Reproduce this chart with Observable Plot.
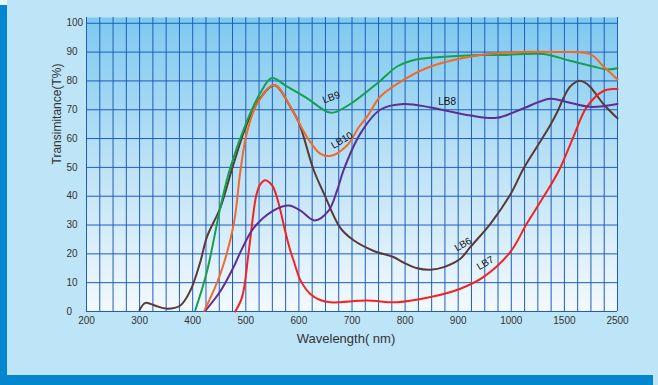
<!DOCTYPE html>
<html><head><meta charset="utf-8">
<script src="https://cdn.jsdelivr.net/npm/d3@7"></script>
<script src="https://cdn.jsdelivr.net/npm/@observablehq/plot@0.6"></script>
<style>
body{margin:0;background:#bee4f7;}
#wrap{position:relative;width:658px;height:385px;overflow:hidden;background:#bee4f7;}
#tl{position:absolute;left:0;top:0;width:7px;height:5px;background:#e6f3fb;}
#lbar{position:absolute;left:0;top:5px;width:7px;height:380px;background:#0386d0;}
#bbar{position:absolute;left:0;top:375px;width:653px;height:10px;background:#0386d0;}
#chart{position:absolute;left:0;top:0;}
</style></head><body>
<div id="wrap"><div id="tl"></div><div id="lbar"></div><div id="bbar"></div><div id="chart"></div></div>
<script>
// ---- data ----
const xTicks = [200,300,400,500,600,700,800,900,1000,1500,2500];
const yTicks = [0,10,20,30,40,50,60,70,80,90,100];
const xLabel = "Wavelength( nm)";
const yLabel = "Transimitance(T%)";

const lb6 = [[300,0.5],[311,3],[330,2],[350,1],[376,2],[395,7],[414,17],[427,26],[452,36],[475,50],[502,65],[527,74],[554,78.5],[584,71],[600,65.5],[628,49],[647,41],[678,29],[703,24.7],[741,21],[778,18.9],[797,17],[823,15],[848,14.5],[873,15.4],[904,18.3],[923,22.4],[961,30.5],[998,40.5],[1114,49.5],[1239,57],[1365,64.5],[1443,70],[1490,74],[1607,78],[1764,80],[1880,79.5],[1984,78],[2235,72],[2500,67]];
const lb7 = [[480,0],[493,5],[505,20],[515,35],[520,40.5],[527,44],[537,45.5],[546,44.5],[552,43],[562,37.4],[574,28],[584,21],[590,17.7],[603,10.8],[622,6],[640,4],[659,3.2],[728,3.8],[785,3.2],[848,5],[904,7.9],[948,12],[998,20.6],[1146,30.5],[1302,39.7],[1450,49],[1670,60.6],[1922,71],[2235,76.5],[2423,77.2],[2500,77.2]];
const lb8 = [[424,0.3],[452,7],[477,15.4],[493,21.8],[515,29],[552,35],[581,36.8],[603,35],[630,31.6],[656,35],[672,42],[684,49],[716,61.8],[753,70],[797,72],[848,70.8],[923,68],[973,67.2],[1083,70],[1365,73.8],[1545,72.7],[1984,71],[2500,72]];
const lb9 = [[405,0.5],[427,14],[452,36],[471,50],[502,66],[527,75.7],[549,81],[578,78],[615,74],[653,69.3],[665,69],[697,72],[753,80],[785,85],[823,87.5],[873,88.4],[942,89],[985,89],[1302,89.3],[1607,87],[2046,85],[2298,84],[2500,84.4]];
const lb10 = [[422,0.3],[452,13],[477,30],[490,49],[502,62],[521,72],[554,78.6],[584,71],[615,60.6],[640,54.8],[660,54],[691,57.7],[713,64],[728,67.5],[753,74.5],[785,79],[848,85],[942,89],[1083,90],[1397,90],[1984,89.3],[2235,85],[2500,80.5]];

const seriesNames = ["LB6","LB7","LB8","LB9","LB10"];
const seriesData = [lb6, lb7, lb8, lb9, lb10];
const seriesColors = ["#5a3a32","#f5231f","#5e2e92","#15a04a","#f26a28"];

const labelNames = ["LB9","LB10","LB8","LB6","LB7"];
const labelX = [661,681,879,909,951];
const labelY = [74.3,59.4,72.9,23.3,16.8];
const labelRot = [-20,-30,0,-30,-30];

// ---- chart ----
const W = 658, H = 385, ML = 86, MR = 41, MT = 17, MB = 74;
const step = (W - ML - MR) / (xTicks.length - 1);
const xRange = xTicks.map((d, i) => ML + i * step);
const gridXVals = [];
for (let i = 0; i < xTicks.length - 1; i++) {
  for (let k = 0; k < 4; k++) gridXVals.push(xTicks[i] + (xTicks[i+1] - xTicks[i]) * k / 4);
}
gridXVals.push(xTicks[xTicks.length - 1]);

const rows = [];
seriesData.forEach((arr, s) => arr.forEach(([x, y]) => rows.push({s: seriesNames[s], x, y})));
const labels = labelNames.map((n, i) => ({n, x: labelX[i], y: labelY[i], r: labelRot[i]}));

const gridColor = "#1f5cbd";
const marks = [
  Plot.frame({fill: "url(#plotbg)", stroke: "none"}),
  Plot.gridX(gridXVals, {stroke: gridColor, strokeOpacity: 1, strokeWidth: 1}),
  Plot.gridY(yTicks, {stroke: gridColor, strokeOpacity: 1, strokeWidth: 1}),
  Plot.axisX(xTicks, {tickSize: 0, tickPadding: 5, tickFormat: d => String(d), fontSize: 10, label: null, fill: "#333"}),
  Plot.axisY(yTicks, {tickSize: 0, tickPadding: 20, textAnchor: "start", fontSize: 10, label: null, fill: "#333"}),
  ...seriesNames.map((n, s) => Plot.line(rows.filter(r => r.s === n), {x: "x", y: "y", stroke: seriesColors[s], strokeWidth: 2, curve: "catmull-rom"})),
  ...labels.map(l => Plot.text([l], {x: "x", y: "y", text: "n", rotate: l.r, fontSize: 10, fill: "#111", fontWeight: "500"})),
  Plot.text([yLabel], {frameAnchor: "left", dx: -29, rotate: -90, fontSize: 12, fill: "#333", text: d => d}),
  Plot.text([xLabel], {frameAnchor: "bottom", dx: -6, dy: 27, lineAnchor: "middle", fontSize: 13, fill: "#333", text: d => d})
];

const chart = Plot.plot({
  width: W, height: H,
  marginLeft: ML, marginRight: MR, marginTop: MT, marginBottom: MB,
  style: {background: "transparent", fontFamily: "'Liberation Sans', Arial, sans-serif"},
  x: {type: "linear", domain: xTicks, range: xRange},
  y: {domain: [0, 102]},
  marks
});
const ns = "http://www.w3.org/2000/svg";
const defs = document.createElementNS(ns, "defs");
defs.innerHTML = '<linearGradient id="plotbg" x1="0" y1="0" x2="0" y2="1"><stop offset="0" stop-color="#7dc9ef"/><stop offset="0.5" stop-color="#bde2f6"/><stop offset="1" stop-color="#f3f9fe"/></linearGradient>';
chart.insertBefore(defs, chart.firstChild);
document.getElementById("chart").appendChild(chart);
</script>
</body></html>
